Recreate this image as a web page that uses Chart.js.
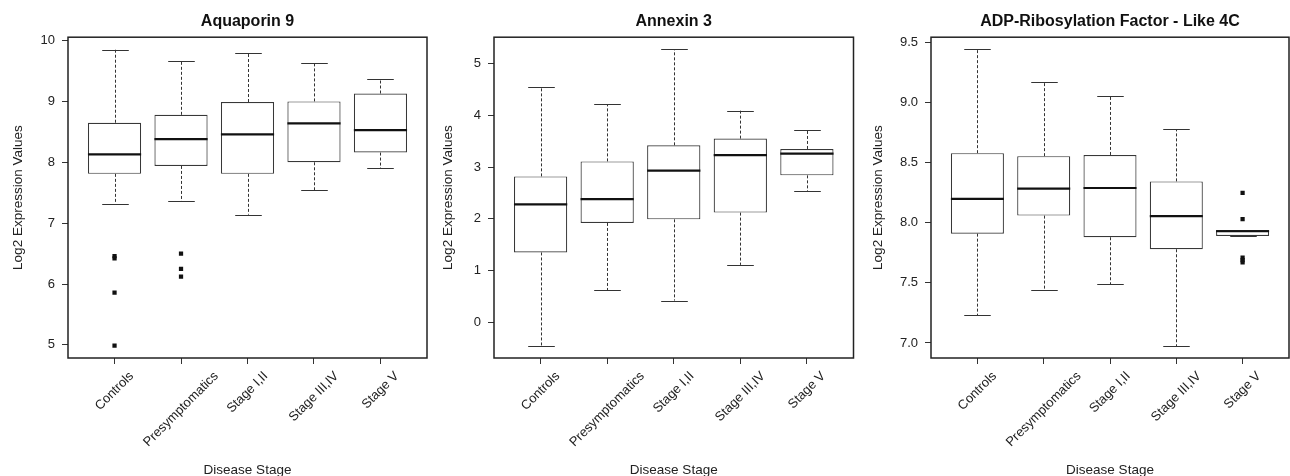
<!DOCTYPE html>
<html>
<head>
<meta charset="utf-8">
<script src="https://cdn.jsdelivr.net/npm/chart.js@4.4.1/dist/chart.umd.min.js"></script>
<style>
  body { margin: 0; background: #fff; }
  #wrap { position: relative; width: 1290px; height: 476px; overflow: hidden; }
  .panel { position: absolute; top: 0; width: 430px; height: 476px; }
</style>
</head>
<body>
<div id="wrap">
  <div class="panel" style="left:0px"><canvas id="aqpChart"></canvas></div>
  <div class="panel" style="left:430px"><canvas id="anxChart"></canvas></div>
  <div class="panel" style="left:860px"><canvas id="arlChart"></canvas></div>
</div>
<script>
const stages = ['Controls', 'Presymptomatics', 'Stage I,II', 'Stage III,IV', 'Stage V'];

// Aquaporin 9
const aqpLow  = [7.32, 7.36, 7.14, 7.54, 7.90];
const aqpQ1   = [7.81, 7.94, 7.81, 8.00, 8.16];
const aqpMed  = [8.13, 8.38, 8.46, 8.64, 8.53];
const aqpQ3   = [8.65, 8.78, 8.99, 9.00, 9.13];
const aqpHigh = [9.85, 9.67, 9.80, 9.63, 9.37];
const aqpOut  = [[6.46, 6.42, 5.86, 4.99], [6.50, 6.25, 6.12], [], [], []];
const aqpTicks = [5, 6, 7, 8, 9, 10];

// Annexin 3
const anxLow  = [-0.46, 0.62, 0.42, 1.11, 2.53];
const anxQ1   = [1.35, 1.92, 1.99, 2.12, 2.84];
const anxMed  = [2.28, 2.38, 2.93, 3.23, 3.26];
const anxQ3   = [2.82, 3.11, 3.42, 3.55, 3.35];
const anxHigh = [4.54, 4.21, 5.28, 4.09, 3.72];
const anxOut  = [[], [], [], [], []];
const anxTicks = [0, 1, 2, 3, 4, 5];

// ADP-Ribosylation Factor - Like 4C
const arlLow  = [7.23, 7.44, 7.49, 6.975, 7.89];
const arlQ1   = [7.91, 8.06, 7.88, 7.78, 7.89];
const arlMed  = [8.20, 8.285, 8.29, 8.055, 7.93];
const arlQ3   = [8.58, 8.555, 8.565, 8.345, 7.94];
const arlHigh = [9.445, 9.17, 9.055, 8.78, 7.94];
const arlOut  = [[], [], [], [], [8.25, 8.03, 7.71, 7.69, 7.67]];
const arlTicks = [7.0, 7.5, 8.0, 8.5, 9.0, 9.5];

const ink = '#222';
const fontFamily = 'Liberation Sans';

// whiskers, caps, medians, frame and the slanted stage labels, all placed through the chart's scales
const boxExtras = {
    id: 'boxExtras',
    beforeDatasetsDraw(chart, args, opts) {
        const {ctx, scales: {x, y}} = chart;
        const capHalf = x.getPixelForValue(1.2) - x.getPixelForValue(1);
        ctx.save();
        ctx.strokeStyle = '#333';
        ctx.lineWidth = 1;
        opts.low.forEach((lo, i) => {
            const px = Math.round(x.getPixelForValue(i + 1)) + 0.5;
            ctx.setLineDash([3, 2]);
            ctx.beginPath();
            ctx.moveTo(px, y.getPixelForValue(opts.q3[i]));
            ctx.lineTo(px, y.getPixelForValue(opts.high[i]));
            ctx.moveTo(px, y.getPixelForValue(opts.q1[i]));
            ctx.lineTo(px, y.getPixelForValue(lo));
            ctx.stroke();
            ctx.setLineDash([]);
            ctx.beginPath();
            [lo, opts.high[i]].forEach(v => {
                const py = Math.round(y.getPixelForValue(v)) + 0.5;
                ctx.moveTo(px - capHalf, py);
                ctx.lineTo(px + capHalf, py);
            });
            ctx.stroke();
        });
        ctx.restore();
    },
    afterDatasetsDraw(chart, args, opts) {
        const {ctx, scales: {y}} = chart;
        const bars = chart.getDatasetMeta(0).data;
        ctx.save();
        ctx.strokeStyle = '#111';
        ctx.lineWidth = 2.2;
        opts.med.forEach((m, i) => {
            const bar = bars[i];
            const py = y.getPixelForValue(m);
            ctx.beginPath();
            ctx.moveTo(bar.x - bar.width / 2, py);
            ctx.lineTo(bar.x + bar.width / 2, py);
            ctx.stroke();
        });
        ctx.restore();
    },
    afterDraw(chart) {
        const {ctx, chartArea: a, scales: {x}} = chart;
        ctx.save();
        ctx.strokeStyle = ink;
        ctx.lineWidth = 1.5;
        ctx.strokeRect(a.left, a.top, a.right - a.left, a.bottom - a.top);

        // stage names at 45 degrees, each centred over its tick
        ctx.fillStyle = ink;
        ctx.font = '13px "' + fontFamily + '"';
        ctx.textAlign = 'right';
        ctx.textBaseline = 'middle';
        stages.forEach((name, i) => {
            const w = ctx.measureText(name).width;
            const px = x.getPixelForValue(i + 1);
            ctx.save();
            ctx.translate(px + w * Math.SQRT1_2 / 2, a.bottom + 16);
            ctx.rotate(-Math.PI / 4);
            ctx.fillText(name, 0, 0);
            ctx.restore();
        });
        ctx.restore();
    }
};

function renderBoxChart(id, title, low, q1, med, q3, high, outliers, yTicks, yMin, yMax, decimals, leftW, rightPad) {
    const boxes = stages.map((s, i) => ({x: i + 1, y: [q1[i], q3[i]]}));
    const points = [];
    outliers.forEach((list, i) => list.forEach(v => points.push({x: i + 1, y: v})));

    return new Chart(document.getElementById(id), {
        type: 'bar',
        data: {
            datasets: [{
                type: 'bar',
                data: boxes,
                backgroundColor: '#fff',
                borderColor: '#383838',
                borderWidth: 1.2,
                borderSkipped: false,
                barPercentage: 0.8,
                categoryPercentage: 1,
                order: 2
            }, {
                type: 'scatter',
                data: points,
                pointStyle: 'rect',
                pointRadius: 3,
                backgroundColor: '#111',
                borderWidth: 0,
                order: 1
            }]
        },
        options: {
            responsive: true,
            maintainAspectRatio: false,
            animation: false,
            layout: { autoPadding: false, padding: { left: 0, right: rightPad, top: 0, bottom: 0 } },
            plugins: {
                legend: { display: false },
                tooltip: { enabled: false },
                title: {
                    display: true,
                    text: title,
                    fullSize: false,
                    color: '#111',
                    font: { family: fontFamily, size: 16, weight: 'bold', lineHeight: 1.2 },
                    padding: { top: 12, bottom: 6 }
                },
                boxExtras: { low, q1, med, q3, high }
            },
            scales: {
                x: {
                    type: 'linear',
                    min: 0.3,
                    max: 5.7,
                    offset: false,
                    afterBuildTicks: s => { s.ticks = stages.map((c, i) => ({value: i + 1})); },
                    afterFit: s => { s.height = 118; s.paddingLeft = 0; s.paddingRight = 0; },
                    grid: { offset: false, drawOnChartArea: false, drawTicks: true, tickLength: 6, color: '#333' },
                    border: { display: false },
                    ticks: { display: false },
                    title: {
                        display: true,
                        text: 'Disease Stage',
                        color: ink,
                        font: { family: fontFamily, size: 13.5, lineHeight: 0.8 },
                        padding: { top: 0, bottom: 0 }
                    }
                },
                y: {
                    min: yMin,
                    max: yMax,
                    afterBuildTicks: s => { s.ticks = yTicks.map(v => ({value: v})); },
                    afterFit: s => { s.width = leftW; },
                    grid: { drawOnChartArea: false, drawTicks: true, tickLength: 6, color: '#333' },
                    border: { display: false },
                    ticks: {
                        padding: 7,
                        color: ink,
                        font: { family: fontFamily, size: 13 },
                        callback: (v) => v.toFixed(decimals)
                    },
                    title: {
                        display: true,
                        text: 'Log2 Expression Values',
                        color: ink,
                        font: { family: fontFamily, size: 13.5, lineHeight: 1.2 },
                        padding: { top: 10, bottom: 0 }
                    }
                }
            }
        },
        plugins: [boxExtras]
    });
}

renderBoxChart('aqpChart', 'Aquaporin 9', aqpLow, aqpQ1, aqpMed, aqpQ3, aqpHigh, aqpOut, aqpTicks, 4.785, 10.055, 0, 68, 3);
renderBoxChart('anxChart', 'Annexin 3', anxLow, anxQ1, anxMed, anxQ3, anxHigh, anxOut, anxTicks, -0.69, 5.51, 0, 64, 6.5);
renderBoxChart('arlChart', 'ADP-Ribosylation Factor - Like 4C', arlLow, arlQ1, arlMed, arlQ3, arlHigh, arlOut, arlTicks, 6.875, 9.545, 1, 71, 1);
</script>
</body>
</html>
